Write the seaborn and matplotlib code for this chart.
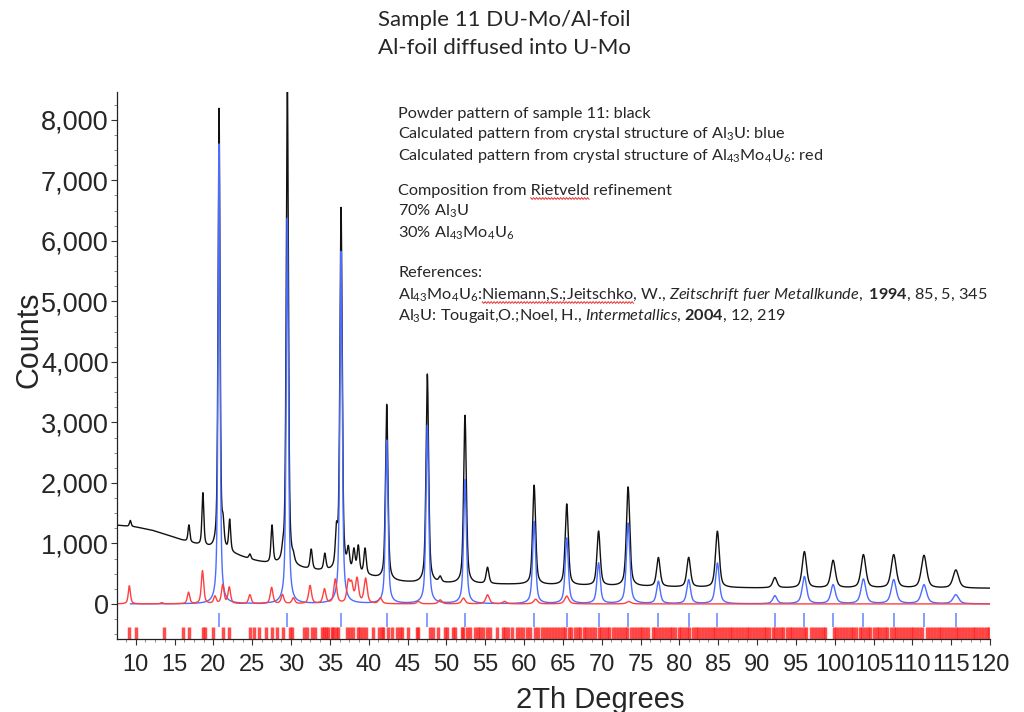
import numpy as np
import pandas as pd
import matplotlib
matplotlib.use("Agg")
import matplotlib.pyplot as plt
from matplotlib.lines import Line2D
import seaborn as sns
from matplotlib.ticker import MultipleLocator, FuncFormatter

# ---- background of the measured powder pattern (2-theta, counts) ----
bg_two_theta = [7.6, 10, 12, 14, 16, 18, 20, 23, 25, 27, 30, 33, 35, 37, 40, 43,
                46, 50, 55, 60, 70, 80, 90, 100, 110, 120]
bg_counts = [1300, 1270, 1220, 1140, 1050, 970, 890, 800, 720, 660, 600, 545, 525,
             505, 450, 370, 345, 335, 325, 320, 295, 275, 262, 260, 258, 258]

# ---- measured peaks of sample 11 (position, height above background) ----
obs_pos = [9.3, 16.85, 18.65, 20.73, 21.25, 22.1, 24.7, 27.55, 28.95, 29.52, 30.3,
           32.6, 34.35, 35.85, 36.44, 37.38, 38.1, 38.66, 39.53, 42.32, 47.55, 49.2,
           52.4, 55.3, 61.3, 65.5, 69.6, 73.4, 77.3, 81.2, 84.9, 92.3, 96.1, 99.8,
           103.7, 107.6, 111.5, 115.6]
obs_height = [100, 280, 870, 7300, 330, 520, 80, 620, 120, 8150, 90,
              330, 270, 560, 6000, 330, 360, 440, 430, 2900, 3450, 90,
              2780, 270, 1640, 1340, 900, 1640, 480, 490, 930, 170, 600, 455,
              550, 550, 540, 300]

# ---- calculated pattern of Al3U ----
al3u_pos = [20.73, 29.52, 36.44, 42.32, 47.55, 52.4, 61.3, 65.5, 69.6, 73.4, 77.3,
            81.2, 84.9, 92.3, 96.1, 99.8, 103.7, 107.6, 111.5, 115.6]
al3u_height = [7600, 6370, 5820, 2700, 2950, 2050, 1360, 1085, 673, 1333, 370,
               397, 673, 132, 450, 314, 408, 397, 314, 150]

# ---- calculated pattern of Al43Mo4U6 ----
al43_pos = [9.18, 13.35, 16.8, 18.6, 20.2, 21.2, 22.05, 24.7, 27.5, 28.9, 30.3,
            32.45, 34.3, 35.7, 37.38, 37.8, 38.5, 39.6, 41.5, 46.4, 49.2, 52.2,
            55.3, 57.5, 61.5, 65.5, 73.5]
al43_height = [300, 20, 190, 545, 120, 310, 270, 150, 270, 150, 95,
               300, 240, 400, 340, 290, 400, 410, 95, 40, 66, 94,
               150, 40, 77, 130, 40]

# ---- reflection markers of Al43Mo4U6 ----
al43_ticks = [
    9.18, 10.0, 13.64, 16.13, 16.86, 18.62, 18.92, 20.0, 21.2, 22.06, 24.72, 25.27,
    25.88, 26.74, 27.51, 28.24, 28.93, 29.87, 30.17, 31.71, 32.1, 32.66, 33.09,
    33.95, 34.25, 34.5, 34.8, 35.24, 35.44, 35.75, 36.05, 37.25, 37.6, 37.94,
    38.59, 38.88, 39.31, 39.66, 40.6, 41.37, 41.68, 41.89, 42.53, 42.96, 43.6,
    44.03, 44.25, 45.1, 46.18, 46.39, 47.9, 48.32, 48.97, 49.83, 50.05, 50.82,
    51.12, 51.98, 52.19, 52.62, 53.05, 53.69, 54.12, 54.34, 54.77, 55.2, 55.62,
    56.49, 57.34, 57.56, 57.98, 58.42, 59.06, 59.49, 59.91, 60.35, 60.78, 61.42,
    61.84, 62.28, 62.71, 63.13, 63.5, 63.9, 64.2, 64.6, 65.0, 65.3, 65.8, 66.1,
    66.5, 66.9, 67.2, 67.7, 68.0, 68.4, 68.8, 69.1, 69.6, 69.9, 70.3, 70.7, 71.0,
    71.4, 71.9, 72.2, 72.6, 73.0, 73.3, 73.8, 74.1, 74.5, 74.9, 75.2, 75.6, 75.9,
    76.6, 76.9, 77.3, 77.7, 78.0, 78.4, 78.8, 79.1, 79.5, 79.9, 80.2, 80.6, 81.0,
    81.3, 81.7, 82.1, 82.4, 82.8, 83.2, 83.5, 83.9, 84.3, 84.6, 85.0, 85.4, 85.7,
    86.1, 86.5, 86.8, 87.2, 87.6, 87.9, 88.3, 88.7, 89.0, 89.4, 89.8, 90.1, 90.5,
    90.9, 91.2, 91.6, 92.0, 92.3, 92.7, 93.1, 93.4, 93.8, 94.2, 94.5, 94.9, 95.3,
    95.6, 96.0, 96.3, 97.0, 97.4, 97.7, 98.1, 98.5, 98.8, 99.9, 100.2, 100.6,
    101.0, 101.3, 101.7, 102.1, 102.4, 102.8, 103.2, 103.5, 103.9, 104.3, 104.6,
    105.0, 105.4, 105.7, 106.1, 106.5, 106.8, 107.2, 107.6, 107.9, 108.3, 108.7,
    109.0, 109.4, 109.8, 110.1, 110.5, 110.9, 111.2, 111.9, 112.3, 112.6, 113.0,
    113.4, 113.7, 114.1, 114.5, 114.8, 115.2, 115.6, 115.9, 116.3, 116.7, 117.0,
    117.4, 117.8, 118.1, 118.5, 118.9, 119.2, 119.6, 119.9]

x_ticks = list(range(10, 121, 5))
y_ticks = list(range(0, 8001, 1000))

BLACK = "#111111"
BLUE = "#4a6cff"
RED = "#ff4040"


def peak_profile(grid, centres, heights, eta=0.65, widen=1.0):
    """Pseudo-Voigt peaks whose width grows with the diffraction angle."""
    out = np.zeros_like(grid)
    for c, h in zip(centres, heights):
        hw = 0.5 * widen * (0.22 + 0.4 * np.tan(np.radians(c / 2.0)))
        d = ((grid - c) / hw) ** 2
        out += h * (eta / (1.0 + d) + (1.0 - eta) * np.exp(-np.log(2.0) * d))
    return out


grid = np.arange(7.6, 120.0, 0.01)
observed = np.interp(grid, bg_two_theta, bg_counts) + peak_profile(grid, obs_pos, obs_height, eta=0.55)
calc_al3u = peak_profile(grid, al3u_pos, al3u_height)
calc_al43 = peak_profile(grid, al43_pos, al43_height, widen=1.3)

keep = grid >= 9.3
df = pd.concat([
    pd.DataFrame({"two_theta": grid, "counts": observed, "pattern": "observed"}),
    pd.DataFrame({"two_theta": grid[keep], "counts": calc_al3u[keep], "pattern": "Al3U"}),
    pd.DataFrame({"two_theta": grid, "counts": calc_al43, "pattern": "Al43Mo4U6"}),
], ignore_index=True)

sns.set_style("ticks")
plt.rcParams["font.family"] = ["Liberation Sans", "DejaVu Sans"]
plt.rcParams["mathtext.fontset"] = "custom"
plt.rcParams["mathtext.rm"] = "Lato"
plt.rcParams["mathtext.it"] = "Lato:italic"
plt.rcParams["mathtext.bf"] = "Lato:bold"

W, H = 1024, 712
fig = plt.figure(figsize=(W / 100, H / 100), dpi=100)
ax = fig.add_axes([117 / W, 1 - 639 / H, (990 - 117) / W, (639 - 92) / H])

sns.lineplot(data=df, x="two_theta", y="counts", hue="pattern",
             hue_order=["observed", "Al3U", "Al43Mo4U6"],
             palette={"observed": BLACK, "Al3U": BLUE, "Al43Mo4U6": RED},
             estimator=None, sort=False, linewidth=1.0, legend=False, ax=ax)

# reflection markers below the zero line
ax.vlines(al3u_pos, -150, -380, color="#6f8cff", linewidth=1.2)
ax.vlines(al43_ticks, -380, -580, color="#ff2020", linewidth=2.5, alpha=0.8)

ax.set_xlim(7.59, 120)
ax.set_ylim(-580, 8460)
ax.set_xticks(x_ticks)
ax.set_yticks(y_ticks)
ax.xaxis.set_minor_locator(MultipleLocator(1.25))
ax.yaxis.set_minor_locator(MultipleLocator(250))
ax.yaxis.set_major_formatter(FuncFormatter(lambda v, p: f"{v:,.0f}"))
ax.tick_params(axis="both", which="major", direction="out", length=4, width=0.8, color="#333333")
ax.tick_params(axis="both", which="minor", direction="out", length=2.5, width=0.6, color="#777777")
ax.tick_params(axis="y", labelsize=19.5, pad=2)
ax.tick_params(axis="x", labelsize=17, pad=7)
sns.despine(ax=ax)
for s in ("left", "bottom"):
    ax.spines[s].set_linewidth(0.9)
    ax.spines[s].set_color("#222222")

ax.set_xlabel("2Th Degrees", fontsize=21)
ax.set_ylabel("Counts", fontsize=22)
ax.xaxis.set_label_coords(0.553, -0.086)
ax.yaxis.set_label_coords(-0.083, 0.547)

# title
fig.text(504 / W, 1 - 26 / H, "Sample 11 DU-Mo/Al-foil", family="Lato",
         fontsize=16, ha="center", va="baseline")
fig.text(504 / W, 1 - 54 / H, "Al-foil diffused into U-Mo", family="Lato",
         fontsize=16, ha="center", va="baseline")

# notes
NOTE_X = 398
NOTE_FS = 11.7
ref_line = (r"Al$_{43}$Mo$_4$U$_6$:Niemann,S.;Jeitschko, W., "
            r"$\mathit{Zeitschrift\ fuer\ Metallkunde,}$ $\mathbf{1994}$, 85, 5, 345")
notes = [
    (118, "Powder pattern of sample 11: black"),
    (138, "Calculated pattern from crystal structure of Al$_3$U: blue"),
    (160, "Calculated pattern from crystal structure of Al$_{43}$Mo$_4$U$_6$: red"),
    (195, "Composition from Rietveld refinement"),
    (216, "70% Al$_3$U"),
    (238, "30% Al$_{43}$Mo$_4$U$_6$"),
    (277, "References:"),
    (299, ref_line),
    (320, r"Al$_3$U: Tougait,O.;Noel, H., $\mathit{Intermetallics}$, $\mathbf{2004}$, 12, 219"),
]
for ypix, txt in notes:
    fig.text(NOTE_X / W, 1 - ypix / H, txt, family="Lato", fontsize=NOTE_FS,
             ha="left", va="baseline")

# spell-check squiggles under the flagged words
fig.canvas.draw()
renderer = fig.canvas.get_renderer()


def text_width(s):
    t = fig.text(0, 0, s, family="Lato", fontsize=NOTE_FS)
    w = t.get_window_extent(renderer).width
    t.remove()
    return w


def squiggle(x0, x1, ypix):
    xs = np.arange(x0, x1 + 0.1, 1.5)
    ys = ypix + np.where(np.arange(len(xs)) % 2 == 0, -0.9, 0.9)
    fig.add_artist(Line2D(xs / W, 1 - ys / H, transform=fig.transFigure,
                          color="#e83030", linewidth=0.7))


end = text_width("Composition from Rietveld")
squiggle(NOTE_X + end - text_width("Rietveld"), NOTE_X + end, 198.5)
start = text_width(r"Al$_{43}$Mo$_4$U$_6$:")
end = text_width(r"Al$_{43}$Mo$_4$U$_6$:Niemann,S.;Jeitschko")
squiggle(NOTE_X + start, NOTE_X + end, 302.5)

fig.savefig("out.png", dpi=100)
